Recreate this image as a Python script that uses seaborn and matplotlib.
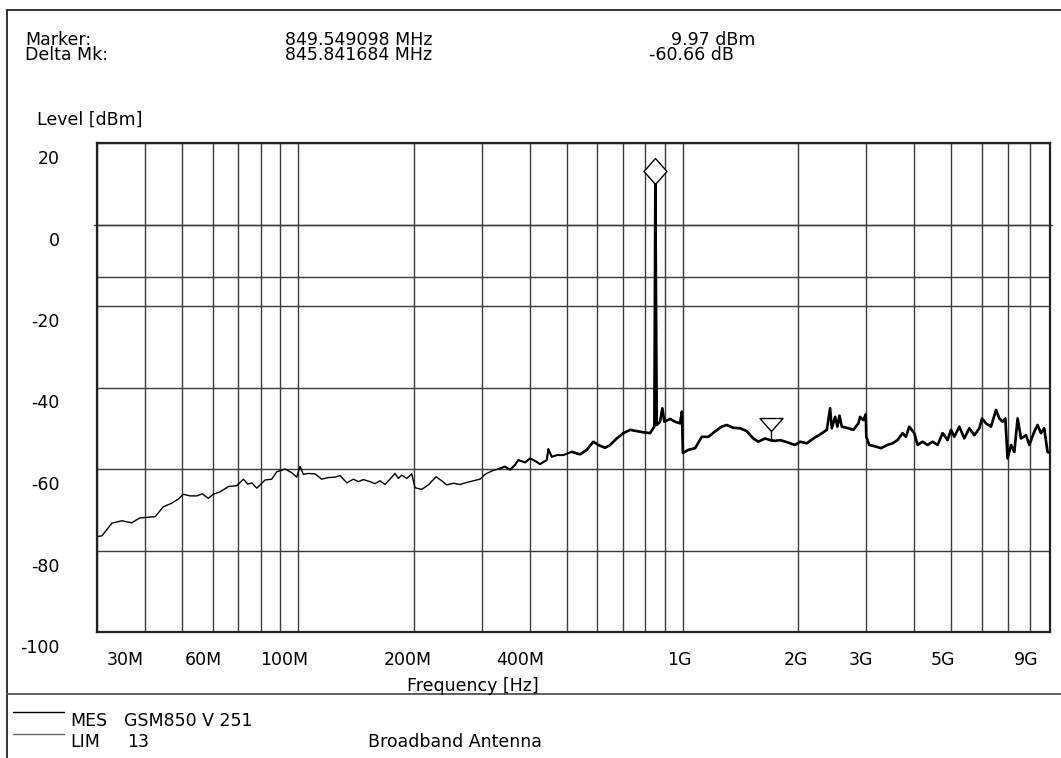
import numpy as np
import pandas as pd
import matplotlib
matplotlib.use("Agg")
import matplotlib.pyplot as plt
import matplotlib.transforms as mtransforms
from matplotlib.lines import Line2D
from matplotlib.ticker import NullFormatter
import seaborn as sns

# ---------------- data ----------------
band1_freq_mhz = [30.0, 30.9, 32.8, 34.8, 36.9, 38.8, 42.5, 44.6, 46.9, 48.8, 50.3, 52.4,
                  54.5, 56.4, 58.4, 60.2, 62.7, 65.9, 69.3, 72.1, 74.0, 75.8, 78.1, 82.1,
                  85.4, 88.0, 92.5, 96.3, 99.2, 101.2, 103.2, 106.3, 110.7, 115.2, 119.9, 124.8]
band1_level_dbm = [-76.6, -76.4, -73.3, -72.7, -73.2, -72.0, -71.7, -69.3, -68.4, -67.4, -66.2, -66.6,
                   -66.6, -66.1, -67.2, -66.2, -65.6, -64.3, -64.1, -62.5, -63.7, -63.4, -64.7, -62.7,
                   -62.5, -60.7, -60.0, -60.9, -62.0, -59.4, -61.3, -61.1, -61.2, -62.5, -62.1, -62.0]

band2_freq_mhz = [128.6, 133.9, 139.3, 143.5, 147.8, 153.9, 158.5, 163.4, 168.3, 173.4, 178.7,
                  182.3, 186.0, 191.7, 197.5, 201.5, 209.7, 218.2, 228.5, 236.4, 243.6, 253.4,
                  263.8, 274.6, 285.6, 297.3, 306.4, 318.9, 331.7, 345.4, 355.8, 366.7, 374.0,
                  389.3, 401.1, 413.3, 425.9, 443.4, 447.6, 456.8, 470.7, 489.7, 504.6]
band2_level_dbm = [-61.6, -63.4, -62.5, -63.1, -62.6, -63.1, -63.6, -62.9, -63.8, -62.5, -61.1,
                   -62.3, -61.5, -62.3, -61.2, -64.6, -65.0, -63.9, -61.9, -62.9, -63.9, -63.5,
                   -63.8, -63.3, -62.9, -62.5, -61.3, -60.5, -60.0, -59.4, -60.2, -59.0, -57.8,
                   -58.4, -57.4, -58.0, -58.8, -57.8, -55.1, -57.0, -56.6, -56.6, -56.1]

band3_freq_mhz = [514.9, 541.2, 563.4, 586.1, 603.9, 628.6, 647.8, 674.3, 701.5, 730.2, 760.1,
                  790.8, 823.1, 844.6, 849.5, 856.8, 873.9, 886.0, 896.7, 927.8, 956.0, 985.1, 996.0]
band3_level_dbm = [-55.8, -56.4, -55.3, -53.3, -54.1, -54.8, -54.1, -52.5, -51.2, -50.4, -50.7,
                   -51.0, -51.2, -49.6, 9.97, -49.2, -48.4, -45.1, -48.4, -47.7, -48.4, -48.8, -45.9]

band4_freq_mhz = [1002, 1035, 1078, 1122, 1167, 1214, 1264, 1303, 1355, 1411, 1468, 1527,
                  1574, 1638, 1688, 1740, 1793, 1866, 1961, 2021, 2104, 2189, 2279, 2372,
                  2419, 2444, 2493, 2527, 2558, 2595, 2699, 2781, 2866, 2895, 2952, 2995]
band4_level_dbm = [-56.1, -55.3, -54.9, -52.1, -52.1, -50.8, -49.6, -49.2, -49.9, -50.0, -50.7, -52.5,
                   -53.3, -52.5, -52.9, -53.1, -52.9, -53.4, -54.1, -53.3, -53.7, -52.5, -51.5, -50.4,
                   -45.1, -50.0, -47.2, -49.6, -46.9, -49.6, -50.0, -50.4, -48.8, -47.2, -48.0, -46.6]

band5_freq_mhz = [3005, 3058, 3183, 3280, 3412, 3516, 3623, 3733, 3810, 3886, 4005, 4085,
                  4209, 4337, 4469, 4605, 4745, 4889, 4989, 5089, 5244, 5403, 5568, 5737,
                  5912, 6008, 6153, 6341, 6533, 6664, 6797, 6908, 7003, 7147, 7290, 7436,
                  7589, 7820, 7976, 8218, 8377, 8549, 8720, 8894, 9000]
band5_level_dbm = [-52.1, -54.1, -54.5, -54.9, -54.1, -53.7, -52.9, -51.2, -52.1, -49.6, -51.2, -54.1,
                   -53.3, -54.1, -53.3, -54.1, -51.2, -52.9, -50.4, -52.1, -49.6, -52.5, -50.0, -51.7,
                   -50.0, -47.6, -48.8, -49.6, -45.5, -47.6, -48.4, -47.6, -57.4, -54.1, -55.8, -47.6,
                   -52.5, -51.7, -54.1, -50.8, -49.2, -51.2, -50.0, -55.8, -56.0]

marker_freq_mhz = 849.549098
marker_level_dbm = 9.97
delta_freq_mhz = 845.841684
delta_level_db = -60.66
delta_trace_dbm = -53.2
limit_dbm = -13

x_tick_mhz = [30, 60, 100, 200, 400, 1000, 2000, 3000, 5000, 9000]
x_tick_labels = ["30M", "60M", "100M", "200M", "400M", "1G", "2G", "3G", "5G", "9G"]
x_grid_mhz = [40, 50, 70, 80, 90, 300, 500, 600, 700, 800, 900, 4000, 6000, 7000, 8000]
y_ticks = [20, 0, -20, -40, -60, -80, -100]
y_tick_labels = ["20", "0", "-20", "-40", "-60", "-80", "-100"]

header_labels = ["Marker:", "Delta Mk:"]
header_freqs = ["849.549098 MHz", "845.841684 MHz"]
header_levels = ["9.97 dBm", "-60.66 dB"]

# ---------------- layout / style ----------------
W, H = 1061, 758
x_label_shift_px = [28, -9, -14, -6, -9, -3, -2, -5, -8, -23]
FS = 12.5
GRID_C = "#3c3c3c"

sns.set_style("white")
plt.rcParams["font.family"] = ["DejaVu Sans"]

fig = plt.figure(figsize=(W / 100, H / 100), dpi=100)
fig.patch.set_facecolor("white")
ax = fig.add_axes([97 / W, 126 / H, 952.5 / W, 489 / H])

df = pd.DataFrame({
    "freq": band1_freq_mhz + band2_freq_mhz + band3_freq_mhz + band4_freq_mhz + band5_freq_mhz,
    "level": band1_level_dbm + band2_level_dbm + band3_level_dbm + band4_level_dbm + band5_level_dbm,
})
sns.lineplot(data=df, x="freq", y="level", ax=ax, color="black", lw=1.0,
             estimator=None, sort=False, zorder=4)
sns.lineplot(data=df[(df["freq"] >= 330) & (df["freq"] <= 520)], x="freq", y="level", ax=ax,
             color="black", lw=1.4, estimator=None, sort=False, zorder=4)
sns.lineplot(data=df[df["freq"] >= 505], x="freq", y="level", ax=ax, color="black", lw=1.9,
             estimator=None, sort=False, zorder=4)

ax.set_xscale("log")
ax.set_xlim(30, 9000)
ax.set_ylim(-100, 20)
ax.set_xlabel("")
ax.set_ylabel("")

ax.set_xticks(x_tick_mhz)
ax.set_xticklabels(x_tick_labels)
ax.set_xticks(x_grid_mhz, minor=True)
ax.xaxis.set_minor_formatter(NullFormatter())
ax.set_yticks(y_ticks)
ax.set_yticklabels(y_tick_labels)
ax.tick_params(axis="both", which="both", length=0, labelsize=FS, colors="black")
ax.tick_params(axis="x", pad=14)
ax.tick_params(axis="y", pad=27)

ax.grid(True, which="both", axis="x", color=GRID_C, lw=1.0)
ax.grid(True, which="major", axis="y", color=GRID_C, lw=1.0)
ax.set_axisbelow(True)
ax.axhline(limit_dbm, color=GRID_C, lw=1.0, zorder=1)
ax.axhline(0, xmin=-0.003, xmax=1.003, color=GRID_C, lw=1.0, zorder=1, clip_on=False)

for s in ax.spines.values():
    s.set_color("#222222")
    s.set_linewidth(1.6)

for lbl, dx in zip(ax.get_xticklabels(), x_label_shift_px):
    lbl.set_transform(lbl.get_transform() +
                      mtransforms.ScaledTranslation(dx / 100, 0, fig.dpi_scale_trans))
for lbl in ax.get_yticklabels():
    lbl.set_transform(lbl.get_transform() +
                      mtransforms.ScaledTranslation(0, -14 / 100, fig.dpi_scale_trans))

# markers
diamond = [(0, 0), (-0.885, 1), (0, 2), (0.885, 1), (0, 0)]
triangle = [(0, 0), (-0.885, 1), (0.885, 1), (0, 0)]
ax.plot([marker_freq_mhz], [marker_level_dbm], marker=diamond, ms=37.4, mfc="white",
        mec="black", mew=1.0, ls="none", zorder=6)
d_f = marker_freq_mhz + delta_freq_mhz
d_l = marker_level_dbm + delta_level_db
ax.plot([d_f, d_f], [d_l, delta_trace_dbm], color="black", lw=1.0, zorder=5)
ax.plot([d_f], [d_l], marker=triangle, ms=18.7, mfc="white", mec="black", mew=1.0,
        ls="none", zorder=6)

# frame lines of the page
FR = "#222222"
fx = 7 / W
fig.add_artist(Line2D([fx, 1], [1 - 9.5 / H] * 2, transform=fig.transFigure, color=FR, lw=1.3))
fig.add_artist(Line2D([fx, fx], [0, 1 - 9.5 / H], transform=fig.transFigure, color=FR, lw=1.3))
fig.add_artist(Line2D([fx, 1], [1 - 694 / H] * 2, transform=fig.transFigure, color="#555555", lw=1.3))
fig.add_artist(Line2D([13 / W, 64 / W], [1 - 712 / H] * 2, transform=fig.transFigure, color="black", lw=1.0))
fig.add_artist(Line2D([13 / W, 64 / W], [1 - 734 / H] * 2, transform=fig.transFigure, color="#666666", lw=1.0))


def ftext(x, y, s, ha="left", ls=1.2):
    fig.text(x / W, 1 - y / H, s, ha=ha, va="center", fontsize=FS, color="black",
             linespacing=ls)


# header block: two lines per column, tightly spaced as in the reference
ftext(25, 47.5, "\n".join(header_labels), ls=0.72)
ftext(285, 47.5, "\n".join(header_freqs), ls=0.72)
ftext(649, 47.5, "    " + header_levels[0] + "\n" + header_levels[1], ls=0.72)

ftext(37, 120, "Level [dBm]")
ftext(473, 686, "Frequency [Hz]", ha="center")
ftext(70, 721, "MES")
ftext(124, 721, "GSM850 V 251")
ftext(70, 742, "LIM")
ftext(127, 742, "13")
ftext(368, 742, "Broadband Antenna")

fig.savefig("out.png", dpi=100, facecolor="white")
